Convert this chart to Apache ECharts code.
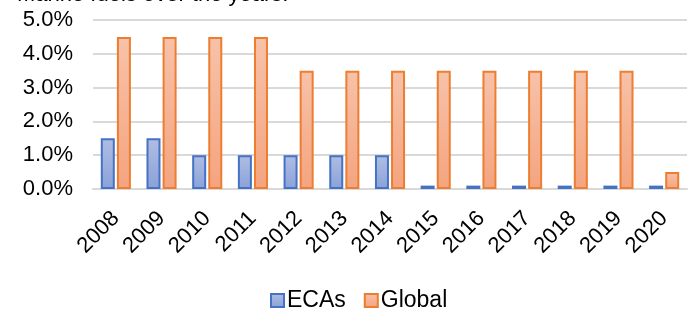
<!DOCTYPE html>
<html>
<head>
<meta charset="utf-8">
<script src="https://cdn.jsdelivr.net/npm/echarts@6/dist/echarts.min.js"></script>
<style>
  html, body { margin: 0; padding: 0; background: #fff; }
  #chart { width: 692px; height: 320px; }
</style>
</head>
<body>
<div id="chart"></div>
<script>
  // données (en %)
  const years = ["2008", "2009", "2010", "2011", "2012", "2013", "2014",
                 "2015", "2016", "2017", "2018", "2019", "2020"];
  const ecas = [1.5, 1.5, 1.0, 1.0, 1.0, 1.0, 1.0, 0.1, 0.1, 0.1, 0.1, 0.1, 0.1];
  const globalCap = [4.5, 4.5, 4.5, 4.5, 3.5, 3.5, 3.5, 3.5, 3.5, 3.5, 3.5, 3.5, 0.5];

  const FONT = "Liberation Sans, Arial, sans-serif";
  const grad = (top, bottom) => new echarts.graphic.LinearGradient(0, 0, 0, 1, [
    { offset: 0, color: top }, { offset: 1, color: bottom },
  ]);
  const blueFill = grad("#b0bde3", "#8aa2d9");
  const orangeFill = grad("#f7c2a9", "#f4a47f");

  const chart = echarts.init(document.getElementById("chart"), null, { renderer: "canvas" });
  chart.setOption({
    animation: false,
    title: {
      text: "Marine fuels over the years.",
      left: 12, top: -21,
      textStyle: { fontFamily: FONT, fontSize: 22, fontWeight: "normal", color: "#000" },
    },
    legend: {
      bottom: 3, left: 265,
      itemWidth: 13, itemHeight: 13, itemGap: 18,
      textStyle: { fontFamily: FONT, fontSize: 23, color: "#000", padding: [0, 0, 0, -2] },
      data: [
        { name: "ECAs", icon: "rect", itemStyle: { color: blueFill, borderColor: "#4472c4", borderWidth: 2 } },
        { name: "Global", icon: "rect", itemStyle: { color: orangeFill, borderColor: "#ed7d31", borderWidth: 2 } },
      ],
    },
    grid: { left: 93, right: 5, top: 20, bottom: 131 },
    xAxis: {
      type: "category",
      data: years,
      axisLine: { lineStyle: { color: "#d9d9d9", width: 2 } },
      axisTick: { show: false },
      axisLabel: { rotate: 45, fontFamily: FONT, fontSize: 22, color: "#000", margin: 26 },
    },
    yAxis: {
      type: "value",
      min: 0, max: 5, interval: 1,
      axisLine: { show: false },
      axisTick: { show: false },
      splitLine: { lineStyle: { color: "#d9d9d9", width: 2 } },
      axisLabel: {
        fontFamily: FONT, fontSize: 22, color: "#000", margin: 20,
        formatter: (v) => v.toFixed(1) + "%",
      },
    },
    series: [
      {
        name: "ECAs", type: "bar", data: ecas,
        barWidth: 14, barGap: "15%",
        itemStyle: { color: blueFill, borderColor: "#4472c4", borderWidth: 2 },
      },
      {
        name: "Global", type: "bar", data: globalCap,
        barWidth: 14,
        itemStyle: { color: orangeFill, borderColor: "#ed7d31", borderWidth: 2 },
      },
    ],
  });
</script>
</body>
</html>
